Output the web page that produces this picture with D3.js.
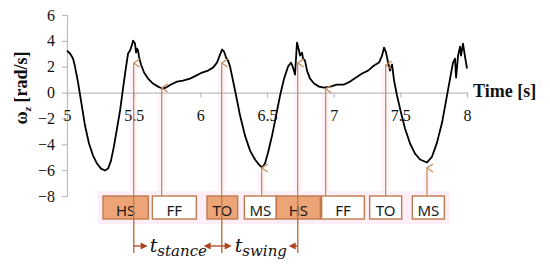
<!DOCTYPE html>
<html>
<head>
<meta charset="utf-8">
<script src="https://cdn.jsdelivr.net/npm/d3@7"></script>
<style>
  body { margin: 0; background: #fff; }
  svg { display: block; }
</style>
</head>
<body>
<div id="chart"></div>
<script>
// angular velocity about z
var timeS = [5.000, 5.023, 5.045, 5.060, 5.083, 5.105, 5.135, 5.165, 5.195, 5.225,
  5.255, 5.285, 5.308, 5.330, 5.353, 5.375, 5.398, 5.420, 5.443, 5.458,
  5.473, 5.488, 5.495, 5.510, 5.518, 5.525, 5.533, 5.540, 5.555, 5.578,
  5.608, 5.645, 5.683, 5.713, 5.743, 5.780, 5.825, 5.870, 5.923, 5.968,
  6.013, 6.058, 6.095, 6.125, 6.148, 6.163, 6.178, 6.193, 6.208, 6.223,
  6.245, 6.268, 6.298, 6.335, 6.373, 6.410, 6.440, 6.463, 6.485, 6.508,
  6.538, 6.568, 6.598, 6.628, 6.658, 6.680, 6.695, 6.710, 6.725, 6.740,
  6.748, 6.763, 6.770, 6.785, 6.800, 6.823, 6.853, 6.890, 6.928, 6.973,
  7.025, 7.078, 7.123, 7.168, 7.213, 7.258, 7.303, 7.340, 7.363, 7.378,
  7.393, 7.408, 7.423, 7.438, 7.453, 7.475, 7.505, 7.535, 7.573, 7.610,
  7.648, 7.700, 7.738, 7.775, 7.813, 7.843, 7.873, 7.895, 7.910, 7.918,
  7.933, 7.948, 7.955, 7.970, 7.985, 8.000];
var omegaZ = [3.25, 3.02, 2.63, 2.01, 0.77, -0.62, -2.55, -3.94, -4.87, -5.49,
  -5.88, -6.03, -5.88, -5.26, -4.10, -2.78, -1.39, 0.31, 2.01, 3.02,
  3.25, 3.71, 4.02, 3.79, 3.09, 3.40, 3.25, 2.78, 2.17, 1.55,
  1.08, 0.70, 0.46, 0.31, 0.39, 0.62, 0.85, 0.93, 1.08, 1.31,
  1.55, 1.70, 1.93, 2.32, 2.94, 3.33, 3.17, 2.71, 2.47, 2.01,
  0.93, -0.23, -1.78, -3.33, -4.49, -5.18, -5.57, -5.80, -5.49, -4.64,
  -3.33, -1.78, -0.23, 1.08, 2.01, 2.32, 1.93, 1.39, 3.87, 3.25,
  2.86, 3.09, 2.63, 2.47, 1.70, 1.08, 0.70, 0.46, 0.39, 0.46,
  0.62, 0.62, 0.85, 1.16, 1.47, 1.70, 2.09, 2.32, 2.86, 3.48,
  3.09, 2.32, 1.70, 2.17, 0.93, -0.23, -1.55, -2.78, -3.94, -4.72,
  -5.18, -5.41, -4.95, -3.87, -2.32, -0.62, 1.08, 2.32, 2.63, 1.16,
  2.86, 3.56, 2.86, 3.79, 2.78, 1.86];

var xTicks = [5, 5.5, 6, 6.5, 7, 7.5, 8];
var yTicks = [-8, -6, -4, -2, 0, 2, 4, 6];

// gait events: label, time, value the arrow points at
var eventLabels = ["HS", "FF", "TO", "MS", "HS", "FF", "TO", "MS"];
var eventTimes = [5.50, 5.71, 6.16, 6.46, 6.73, 6.94, 7.39, 7.70];
var eventTips = [2.29, 0.36, 2.29, -5.83, 2.29, 0.28, 2.13, -5.83];
// box extent on the time axis (annotation layout)
var boxFrom = [5.27, 5.64, 6.05, 6.33, 6.57, 6.91, 7.27, 7.59];
var boxTo   = [5.61, 5.97, 6.28, 6.57, 6.90, 7.23, 7.51, 7.83];
var boxFilled = [true, false, true, false, true, false, false, false];

var W = 550, H = 264;
var serif = "'Liberation Serif', Tinos, 'Times New Roman', serif";
var sans = "'Noto Sans', 'Open Sans', sans-serif";
var axisGrey = "#bdbdbd", arrowTan = "#c98b59", darkRed = "#b0431f";

var x = d3.scaleLinear().domain([5, 8]).range([67, 467]);
var y = d3.scaleLinear().domain([-8, 6]).range([196, 15]);

var svg = d3.select("#chart").append("svg")
  .attr("width", W).attr("height", H)
  .style("font-family", serif);

var defs = svg.append("defs");
defs.append("marker").attr("id", "openHead")
  .attr("viewBox", "-6 -1 12 10").attr("refX", 0).attr("refY", 0)
  .attr("markerUnits", "userSpaceOnUse")
  .attr("markerWidth", 12).attr("markerHeight", 10).attr("orient", "auto-start-reverse")
  .append("path").attr("d", "M-4,6L0,0L4,6")
  .attr("fill", "none").attr("stroke", arrowTan).attr("stroke-width", 1.3);

// pink glow behind the event boxes and lines
svg.append("rect")
  .attr("x", x(boxFrom[0]) - 5).attr("y", 191)
  .attr("width", x(boxTo[7]) - x(boxFrom[0]) + 10).attr("height", 33)
  .attr("fill", "#fdeef8");
svg.selectAll(".glow").data(eventTimes).enter()
  .append("rect").attr("class", "glow")
  .attr("x", function(d){ return x(d) - 4; })
  .attr("y", function(d, i){ return y(eventTips[i]) + 4; })
  .attr("width", 8)
  .attr("height", function(d, i){ return 196 - y(eventTips[i]) - 4; })
  .attr("fill", "#fef3fa");

// axes
var yAxis = d3.axisLeft(y).tickValues(yTicks).tickSize(5).tickPadding(7);
var gy = svg.append("g").attr("transform", "translate(" + x(5) + ",0)").call(yAxis);
var xAxis = d3.axisBottom(x).tickValues(xTicks).tickSize(5).tickPadding(12)
  .tickFormat(d3.format("~g"));
var gx = svg.append("g").attr("transform", "translate(0," + y(0) + ")").call(xAxis);
[gx, gy].forEach(function(g){
  g.attr("font-family", null).attr("font-size", null);
  g.selectAll("path, line").attr("stroke", axisGrey).attr("stroke-width", 1.2);
  g.selectAll("text").attr("fill", "#111")
    .style("font-size", "16px").style("font-family", serif);
});

// signal
svg.append("path").datum(timeS.map(function(t, i){ return [t, omegaZ[i]]; }))
  .attr("fill", "none").attr("stroke", "#000").attr("stroke-width", 1.8)
  .attr("stroke-linejoin", "round")
  .attr("d", d3.line().x(function(d){ return x(d[0]); }).y(function(d){ return y(d[1]); }));

// axis titles
svg.append("text").attr("x", 473).attr("y", 97)
  .style("font-size", "18px").style("font-weight", "bold").attr("fill", "#111")
  .text("Time [s]");
var yl = svg.append("text")
  .attr("transform", "translate(27,88) rotate(-90)")
  .attr("text-anchor", "middle")
  .style("font-size", "18px").style("font-weight", "bold").attr("fill", "#111");
yl.append("tspan").text("ω");
yl.append("tspan").style("font-size", "11px").style("font-style", "italic").attr("dy", 4).text("z");
yl.append("tspan").attr("dy", -4).text(" [rad/s]");

// event arrows (HS and TO of the first stride run down to the time arrows)
var longLine = [true, false, true, false, true, false, false, false];
svg.selectAll(".evline").data(eventTimes).enter()
  .append("line").attr("class", "evline")
  .attr("x1", function(d){ return x(d); }).attr("x2", function(d){ return x(d); })
  .attr("y1", function(d, i){ return longLine[i] ? 253 : 196; })
  .attr("y2", function(d, i){ return y(eventTips[i]); })
  .attr("stroke", arrowTan).attr("stroke-width", 1.3)
  .attr("marker-end", "url(#openHead)");

// event boxes
var boxes = svg.selectAll(".evbox").data(eventLabels).enter()
  .append("g").attr("class", "evbox");
boxes.append("rect")
  .attr("x", function(d, i){ return x(boxFrom[i]); })
  .attr("y", 196)
  .attr("width", function(d, i){ return x(boxTo[i]) - x(boxFrom[i]); })
  .attr("height", 23)
  .attr("fill", function(d, i){ return boxFilled[i] ? "#eda476" : "#fff"; })
  .attr("stroke", "#c07a4e").attr("stroke-width", 1.4);
boxes.append("text")
  .attr("x", function(d, i){ return (x(boxFrom[i]) + x(boxTo[i])) / 2; })
  .attr("y", 216)
  .attr("text-anchor", "middle")
  .style("font-family", sans).style("font-size", "15px")
  .attr("fill", "#1a1a1a")
  .text(function(d){ return d; });

// redraw long lines over filled boxes
svg.selectAll(".evline2").data(eventTimes.filter(function(d, i){ return longLine[i]; })).enter()
  .append("line")
  .attr("x1", function(d){ return x(d); }).attr("x2", function(d){ return x(d); })
  .attr("y1", 196).attr("y2", 253)
  .attr("stroke", "#b97a4e").attr("stroke-width", 1.3);

// stance / swing duration arrows
function head(px, py, dir) {
  svg.append("path")
    .attr("d", "M" + px + "," + py + "l" + (-7 * dir) + ",-3.5v7z")
    .attr("fill", darkRed);
}
var ay = 246;
var hs1 = x(eventTimes[0]), to1 = x(eventTimes[2]), hs2 = x(eventTimes[4]);
svg.append("line").attr("x1", hs1).attr("x2", hs1 + 8).attr("y1", ay).attr("y2", ay)
  .attr("stroke", darkRed).attr("stroke-width", 1.3);
head(hs1 + 14, ay, 1);
svg.append("line").attr("x1", to1 - 12).attr("x2", to1 + 4).attr("y1", ay).attr("y2", ay)
  .attr("stroke", darkRed).attr("stroke-width", 1.3);
head(to1 - 18, ay, -1);
head(to1 + 10, ay, 1);
svg.append("line").attr("x1", hs2 - 4).attr("x2", hs2).attr("y1", ay).attr("y2", ay)
  .attr("stroke", darkRed).attr("stroke-width", 1.3);
head(hs2 - 9, ay, -1);

function durLabel(px, sub) {
  var t = svg.append("text").attr("x", px).attr("y", 252)
    .style("font-family", "'DejaVu Serif', serif").style("font-style", "italic")
    .style("font-size", "19px").attr("fill", "#111");
  t.append("tspan").text("t");
  t.append("tspan").style("font-size", "15px").attr("dy", 4).text(sub);
}
durLabel(hs1 + 16, "stance");
durLabel(to1 + 13, "swing");
</script>
</body>
</html>
